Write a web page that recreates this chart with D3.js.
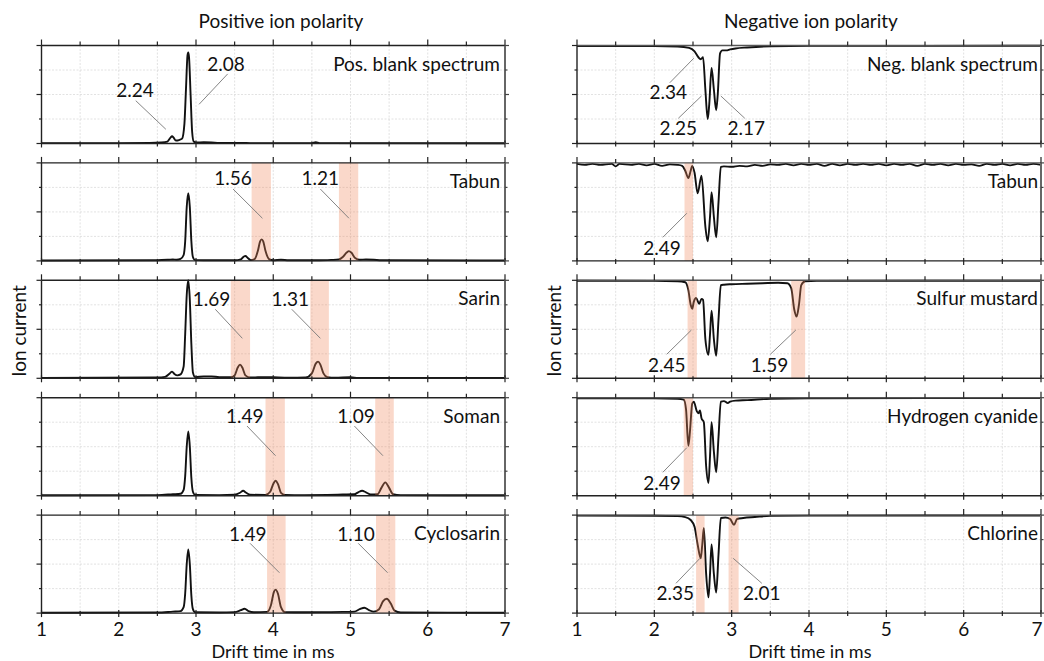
<!DOCTYPE html>
<html><head><meta charset="utf-8">
<script src="https://cdn.jsdelivr.net/npm/d3@7"></script>
<style>
body{margin:0;background:#fff}
text{font-family:Lato,"Open Sans",sans-serif;fill:#111}
</style>
</head><body>
<svg id="chart" width="1044" height="661"></svg>
<script>
// ---------------- DATA ----------------
const xTickLabels = [1, 2, 3, 4, 5, 6, 7];
const columnTitles = ["Positive ion polarity", "Negative ion polarity"];
const posNames = ["Pos. blank spectrum", "Tabun", "Sarin", "Soman", "Cyclosarin"];
const negNames = ["Neg. blank spectrum", "Tabun", "Sulfur mustard", "Hydrogen cyanide", "Chlorine"];

// positive polarity spectra [drift time ms, normalised ion current]
const posBlank = [[1.0,0.004],[2.0,0.004],[2.4,0.005],[2.55,0.01],[2.63,0.02],[2.67,0.06],[2.69,0.075],[2.71,0.06],[2.74,0.03],[2.78,0.035],[2.82,0.05],[2.85,0.2],[2.87,0.55],[2.89,0.9],[2.90,0.93],[2.91,0.88],[2.93,0.5],[2.95,0.12],[2.97,0.02],[3.0,0.01],[3.1,0.012],[3.2,0.01],[3.3,0.005],[3.6,0.006],[3.7,0.004],[4.5,0.004],[4.55,0.012],[4.6,0.004],[7.0,0.003]];
const posTabun = [[1.0,0.004],[2.5,0.006],[2.65,0.012],[2.7,0.015],[2.75,0.012],[2.8,0.02],[2.84,0.06],[2.86,0.2],[2.88,0.55],[2.9,0.69],[2.92,0.55],[2.94,0.2],[2.96,0.04],[2.99,0.008],[3.2,0.006],[3.5,0.006],[3.58,0.015],[3.62,0.045],[3.64,0.05],[3.67,0.03],[3.71,0.008],[3.76,0.02],[3.80,0.1],[3.83,0.2],[3.85,0.22],[3.87,0.2],[3.9,0.1],[3.95,0.015],[4.0,0.006],[4.1,0.012],[4.2,0.006],[4.6,0.006],[4.75,0.01],[4.85,0.015],[4.9,0.04],[4.95,0.085],[4.98,0.1],[5.01,0.085],[5.06,0.03],[5.12,0.012],[5.2,0.015],[5.3,0.012],[5.4,0.006],[7.0,0.004]];
const posSarin = [[1,0.004],[2.5,0.008],[2.6,0.015],[2.66,0.05],[2.69,0.068],[2.72,0.045],[2.76,0.03],[2.8,0.04],[2.84,0.12],[2.86,0.45],[2.88,0.85],[2.9,1.0],[2.92,0.8],[2.94,0.35],[2.96,0.06],[2.99,0.012],[3.1,0.02],[3.2,0.02],[3.3,0.012],[3.45,0.01],[3.5,0.03],[3.54,0.11],[3.57,0.14],[3.6,0.11],[3.64,0.03],[3.7,0.008],[3.8,0.01],[3.9,0.012],[4.0,0.01],[4.2,0.006],[4.42,0.008],[4.5,0.05],[4.55,0.15],[4.58,0.17],[4.61,0.14],[4.65,0.05],[4.7,0.012],[4.8,0.006],[5.0,0.01],[5.1,0.004],[7,0.003]];
const posSoman = [[1,0.004],[2.5,0.006],[2.7,0.015],[2.8,0.02],[2.84,0.06],[2.86,0.2],[2.88,0.5],[2.9,0.655],[2.92,0.5],[2.94,0.18],[2.96,0.04],[2.99,0.008],[3.3,0.006],[3.5,0.01],[3.57,0.03],[3.61,0.05],[3.65,0.03],[3.7,0.01],[3.9,0.008],[3.96,0.04],[4.0,0.12],[4.03,0.153],[4.06,0.12],[4.1,0.03],[4.15,0.008],[4.4,0.006],[4.7,0.008],[4.9,0.012],[5.05,0.015],[5.1,0.035],[5.15,0.05],[5.2,0.035],[5.26,0.012],[5.35,0.015],[5.4,0.08],[5.45,0.136],[5.5,0.08],[5.55,0.015],[5.65,0.006],[7,0.004]];
const posCyclosarin = [[1,0.004],[2.5,0.006],[2.7,0.015],[2.8,0.02],[2.84,0.06],[2.86,0.2],[2.88,0.5],[2.9,0.65],[2.92,0.5],[2.94,0.18],[2.96,0.04],[2.99,0.008],[3.3,0.006],[3.5,0.01],[3.58,0.03],[3.63,0.045],[3.68,0.02],[3.75,0.008],[3.92,0.012],[3.97,0.08],[4.01,0.22],[4.03,0.24],[4.06,0.2],[4.1,0.06],[4.15,0.01],[4.4,0.008],[4.7,0.01],[4.9,0.012],[5.05,0.015],[5.12,0.04],[5.18,0.055],[5.24,0.03],[5.3,0.015],[5.37,0.04],[5.42,0.12],[5.47,0.146],[5.52,0.1],[5.57,0.025],[5.65,0.006],[7,0.004]];

// negative polarity spectra (signal drawn downward)
const negBlank = [[1,-0.005],[2.0,-0.006],[2.3,-0.01],[2.45,-0.025],[2.52,-0.06],[2.57,-0.12],[2.60,-0.14],[2.63,-0.12],[2.66,-0.45],[2.69,-0.75],[2.71,-0.6],[2.74,-0.23],[2.77,-0.45],[2.80,-0.66],[2.82,-0.5],[2.85,-0.08],[2.88,-0.05],[2.93,-0.05],[2.98,-0.04],[3.05,-0.03],[3.2,-0.02],[3.5,-0.008],[4,-0.004],[7,-0.003]];
const negTabun = [[1,-0.01],[1.1,-0.02],[1.2,-0.01],[1.3,-0.02],[1.45,-0.01],[1.5,-0.035],[1.55,-0.01],[1.7,-0.02],[1.8,-0.01],[1.9,-0.025],[2.0,-0.01],[2.1,-0.03],[2.2,-0.015],[2.3,-0.02],[2.36,-0.03],[2.40,-0.08],[2.44,-0.155],[2.47,-0.08],[2.49,-0.03],[2.52,-0.1],[2.56,-0.31],[2.61,-0.13],[2.66,-0.65],[2.69,-0.80],[2.72,-0.55],[2.74,-0.30],[2.77,-0.55],[2.80,-0.76],[2.83,-0.4],[2.86,-0.04],[2.9,-0.035],[3.0,-0.04],[3.1,-0.03],[3.2,-0.035],[3.3,-0.02],[3.4,-0.03],[3.5,-0.015],[3.6,-0.02],[3.7,-0.01],[3.8,-0.025],[3.9,-0.01],[4.0,-0.02],[4.1,-0.01],[4.2,-0.03],[4.3,-0.01],[4.4,-0.025],[4.5,-0.01],[4.6,-0.02],[4.7,-0.01],[4.8,-0.02],[4.9,-0.01],[5.0,-0.025],[5.1,-0.01],[5.2,-0.02],[5.3,-0.01],[5.4,-0.03],[5.5,-0.01],[5.6,-0.02],[5.7,-0.01],[5.8,-0.025],[5.9,-0.01],[6.0,-0.02],[6.1,-0.015],[6.2,-0.03],[6.3,-0.01],[6.4,-0.02],[6.5,-0.01],[6.6,-0.025],[6.7,-0.01],[6.8,-0.02],[6.9,-0.01],[7.0,-0.02]];
const negSulfurMustard = [[1,-0.005],[2.0,-0.006],[2.3,-0.01],[2.4,-0.02],[2.44,-0.1],[2.47,-0.25],[2.49,-0.29],[2.51,-0.22],[2.54,-0.18],[2.58,-0.24],[2.61,-0.19],[2.63,-0.2],[2.66,-0.6],[2.70,-0.76],[2.72,-0.55],[2.74,-0.31],[2.77,-0.6],[2.80,-0.77],[2.83,-0.4],[2.86,-0.05],[2.9,-0.045],[3.0,-0.04],[3.2,-0.035],[3.4,-0.03],[3.6,-0.025],[3.72,-0.03],[3.77,-0.08],[3.81,-0.3],[3.84,-0.37],[3.87,-0.25],[3.9,-0.05],[3.95,-0.01],[4.1,-0.006],[7,-0.004]];
const negHydrogenCyanide = [[1,-0.005],[2.0,-0.006],[2.3,-0.01],[2.38,-0.02],[2.41,-0.12],[2.44,-0.49],[2.46,-0.35],[2.49,-0.06],[2.51,-0.04],[2.55,-0.14],[2.57,-0.16],[2.59,-0.13],[2.61,-0.21],[2.64,-0.25],[2.67,-0.7],[2.70,-0.87],[2.72,-0.6],[2.74,-0.25],[2.77,-0.55],[2.80,-0.76],[2.83,-0.4],[2.86,-0.04],[2.9,-0.035],[2.95,-0.055],[2.98,-0.04],[3.05,-0.03],[3.2,-0.025],[3.5,-0.01],[4,-0.005],[7,-0.004]];
const negChlorine = [[1,-0.005],[2.0,-0.006],[2.3,-0.01],[2.4,-0.02],[2.47,-0.05],[2.52,-0.12],[2.56,-0.3],[2.60,-0.44],[2.62,-0.3],[2.64,-0.13],[2.67,-0.6],[2.70,-0.84],[2.72,-0.6],[2.74,-0.30],[2.77,-0.6],[2.80,-0.79],[2.83,-0.4],[2.86,-0.03],[2.92,-0.025],[2.98,-0.04],[3.03,-0.10],[3.07,-0.04],[3.15,-0.03],[3.3,-0.02],[3.5,-0.008],[4,-0.005],[7,-0.004]];

const posSpectra = [posBlank, posTabun, posSarin, posSoman, posCyclosarin];
const negSpectra = [negBlank, negTabun, negSulfurMustard, negHydrogenCyanide, negChlorine];

// highlighted drift-time windows [start, end] in ms
const posBands = [[], [[3.72,3.97],[4.85,5.10]], [[3.45,3.70],[4.48,4.72]], [[3.90,4.15],[5.32,5.56]], [[3.92,4.16],[5.33,5.58]]];
const negBands = [[], [[2.39,2.50]], [[2.43,2.55],[3.77,3.95]], [[2.38,2.50]], [[2.54,2.65],[2.96,3.09]]];

// peak annotations: label, text position (ms, value), leader from -> to (ms, value)
const posAnnotations = [
  [["2.24",2.21,0.47,2.22,0.437,2.61,0.145],["2.08",3.39,0.74,3.41,0.71,3.04,0.40]],
  [["1.56",3.48,0.775,3.48,0.733,3.86,0.435],["1.21",4.61,0.775,4.61,0.733,4.98,0.435]],
  [["1.69",3.20,0.738,3.25,0.704,3.60,0.408],["1.31",4.22,0.738,4.24,0.704,4.61,0.408]],
  [["1.49",3.63,0.739,3.66,0.711,4.03,0.408],["1.09",5.07,0.739,5.05,0.711,5.42,0.408]],
  [["1.49",3.67,0.739,3.70,0.712,4.08,0.412],["1.10",5.07,0.739,5.10,0.712,5.48,0.412]]
];
const negAnnotations = [
  [["2.34",2.18,-0.549,2.20,-0.38,2.51,-0.13],["2.25",2.31,-0.913,2.31,-0.743,2.61,-0.515],["2.17",3.19,-0.913,3.17,-0.743,2.86,-0.515]],
  [["2.49",2.10,-0.94,2.11,-0.759,2.42,-0.514]],
  [["2.45",2.16,-0.933,2.16,-0.755,2.48,-0.507],["1.59",3.49,-0.933,3.50,-0.755,3.83,-0.507]],
  [["2.49",2.10,-0.942,2.11,-0.761,2.42,-0.51]],
  [["2.35",2.27,-0.866,2.28,-0.696,2.59,-0.441],["2.01",3.39,-0.866,3.39,-0.696,3.02,-0.441]]
];

// ---------------- LAYOUT ----------------
const svg = d3.select("#chart");
const panelTop0 = 45.5, panelStep = 117.4, panelH = 98;
const columns = [
  {x0: 41.5, x1: 505, names: posNames, spectra: posSpectra, bands: posBands, ann: posAnnotations, yDom: [0, 1], titleX: 281, ylabX: 19, xlabX: 273, nameEnd: 500},
  {x0: 577, x1: 1041, names: negNames, spectra: negSpectra, bands: negBands, ann: negAnnotations, yDom: [-1, 0], titleX: 811, ylabX: 554, xlabX: 810, nameEnd: 1038}
];
const fontSize = 19;

columns.forEach((col, ci) => {
  const x = d3.scaleLinear().domain([1, 7]).range([col.x0, col.x1]);
  svg.append("text").attr("x", col.titleX).attr("y", 28).attr("text-anchor", "middle")
    .attr("font-size", fontSize).text(columnTitles[ci]);
  svg.append("text").attr("transform", `translate(${col.ylabX},331) rotate(-90)`)
    .attr("text-anchor", "middle").attr("dy", "0.35em").attr("font-size", fontSize).text("Ion current");
  svg.append("text").attr("x", col.xlabX).attr("y", 658).attr("text-anchor", "middle")
    .attr("font-size", 18).text("Drift time in ms");

  col.names.forEach((name, pi) => {
    const top = panelTop0 + pi * panelStep, bot = top + panelH;
    const y = d3.scaleLinear().domain(col.yDom).range([bot, top]);
    const g = svg.append("g");
    const yq = d3.range(5).map(k => col.yDom[0] + k * 0.25);

    // grid
    g.append("g").selectAll("line").data(d3.range(1.5, 7, 0.5)).join("line")
      .attr("x1", d => x(d)).attr("x2", d => x(d)).attr("y1", top).attr("y2", bot)
      .attr("stroke", "#dadada").attr("stroke-width", 0.8).attr("stroke-dasharray", "2,1.5");
    g.append("g").selectAll("line").data(yq.slice(1, 4)).join("line")
      .attr("x1", col.x0).attr("x2", col.x1).attr("y1", d => y(d)).attr("y2", d => y(d))
      .attr("stroke", "#dadada").attr("stroke-width", 0.8).attr("stroke-dasharray", "2,1.5");

    // spectrum
    const line = d3.line().x(d => x(d[0])).y(d => y(d[1])).curve(d3.curveMonotoneX);
    g.append("path").datum(col.spectra[pi]).attr("d", line)
      .attr("fill", "none").attr("stroke", "#111").attr("stroke-width", 1.9).attr("stroke-linejoin", "round");

    // bands (drawn translucent over the line)
    g.append("g").selectAll("rect").data(col.bands[pi]).join("rect")
      .attr("x", d => x(d[0])).attr("width", d => x(d[1]) - x(d[0]))
      .attr("y", top).attr("height", panelH)
      .attr("fill", "#f08a5d").attr("fill-opacity", 0.33);

    // frame
    g.append("line").attr("x1", col.x0).attr("x2", col.x1).attr("y1", top).attr("y2", top)
      .attr("stroke", ci === 1 ? "#555" : "#222").attr("stroke-width", 1.4);
    g.append("line").attr("x1", col.x0).attr("x2", col.x1).attr("y1", bot).attr("y2", bot)
      .attr("stroke", "#222").attr("stroke-width", 1.4);
    g.append("line").attr("x1", col.x0).attr("x2", col.x0).attr("y1", top).attr("y2", bot)
      .attr("stroke", "#222").attr("stroke-width", 1.4);
    g.append("line").attr("x1", col.x1).attr("x2", col.x1).attr("y1", top).attr("y2", bot)
      .attr("stroke", "#666").attr("stroke-width", 2);

    // x ticks (top: outward, bottom: crossing)
    const xt = d3.range(1, 7.01, 0.5);
    const isMajor = v => Math.abs(v - Math.round(v)) < 1e-6;
    g.append("g").selectAll("line").data(xt).join("line")
      .attr("x1", d => x(d)).attr("x2", d => x(d))
      .attr("y1", top).attr("y2", d => top - (isMajor(d) ? 6 : 4))
      .attr("stroke", "#222").attr("stroke-width", 1.2);
    g.append("g").selectAll("line").data(xt).join("line")
      .attr("x1", d => x(d)).attr("x2", d => x(d))
      .attr("y1", d => bot - (isMajor(d) ? 3 : 2)).attr("y2", d => bot + (isMajor(d) ? 4 : 3))
      .attr("stroke", "#222").attr("stroke-width", 1.2);

    // y ticks
    g.append("g").selectAll("line").data(yq).join("line")
      .attr("x1", col.x0).attr("x2", (d, k) => col.x0 - (k % 2 === 0 ? 5 : 2.5))
      .attr("y1", d => y(d)).attr("y2", d => y(d)).attr("stroke", "#222").attr("stroke-width", 1.2);
    g.append("g").selectAll("line").data(yq).join("line")
      .attr("x1", col.x1).attr("x2", (d, k) => col.x1 + (k % 2 === 0 ? 4 : 2.5))
      .attr("y1", d => y(d)).attr("y2", d => y(d)).attr("stroke", "#444").attr("stroke-width", 1.2);

    // bottom tick labels
    if (pi === col.names.length - 1) {
      g.append("g").selectAll("text").data(xTickLabels).join("text")
        .attr("x", d => Math.min(x(d), 1037)).attr("y", 636).attr("text-anchor", "middle")
        .attr("font-size", fontSize).text(d => d);
    }

    // panel name
    g.append("text").attr("x", col.nameEnd).attr("y", top + 25).attr("text-anchor", "end")
      .attr("font-size", fontSize).text(name);

    // annotations
    col.ann[pi].forEach(a => {
      g.append("line").attr("x1", x(a[3])).attr("y1", y(a[4])).attr("x2", x(a[5])).attr("y2", y(a[6]))
        .attr("stroke", "#777").attr("stroke-width", 0.9);
      g.append("text").attr("x", x(a[1])).attr("y", y(a[2])).attr("text-anchor", "middle")
        .attr("font-size", fontSize).text(a[0]);
    });
  });
});
</script>
</body></html>
